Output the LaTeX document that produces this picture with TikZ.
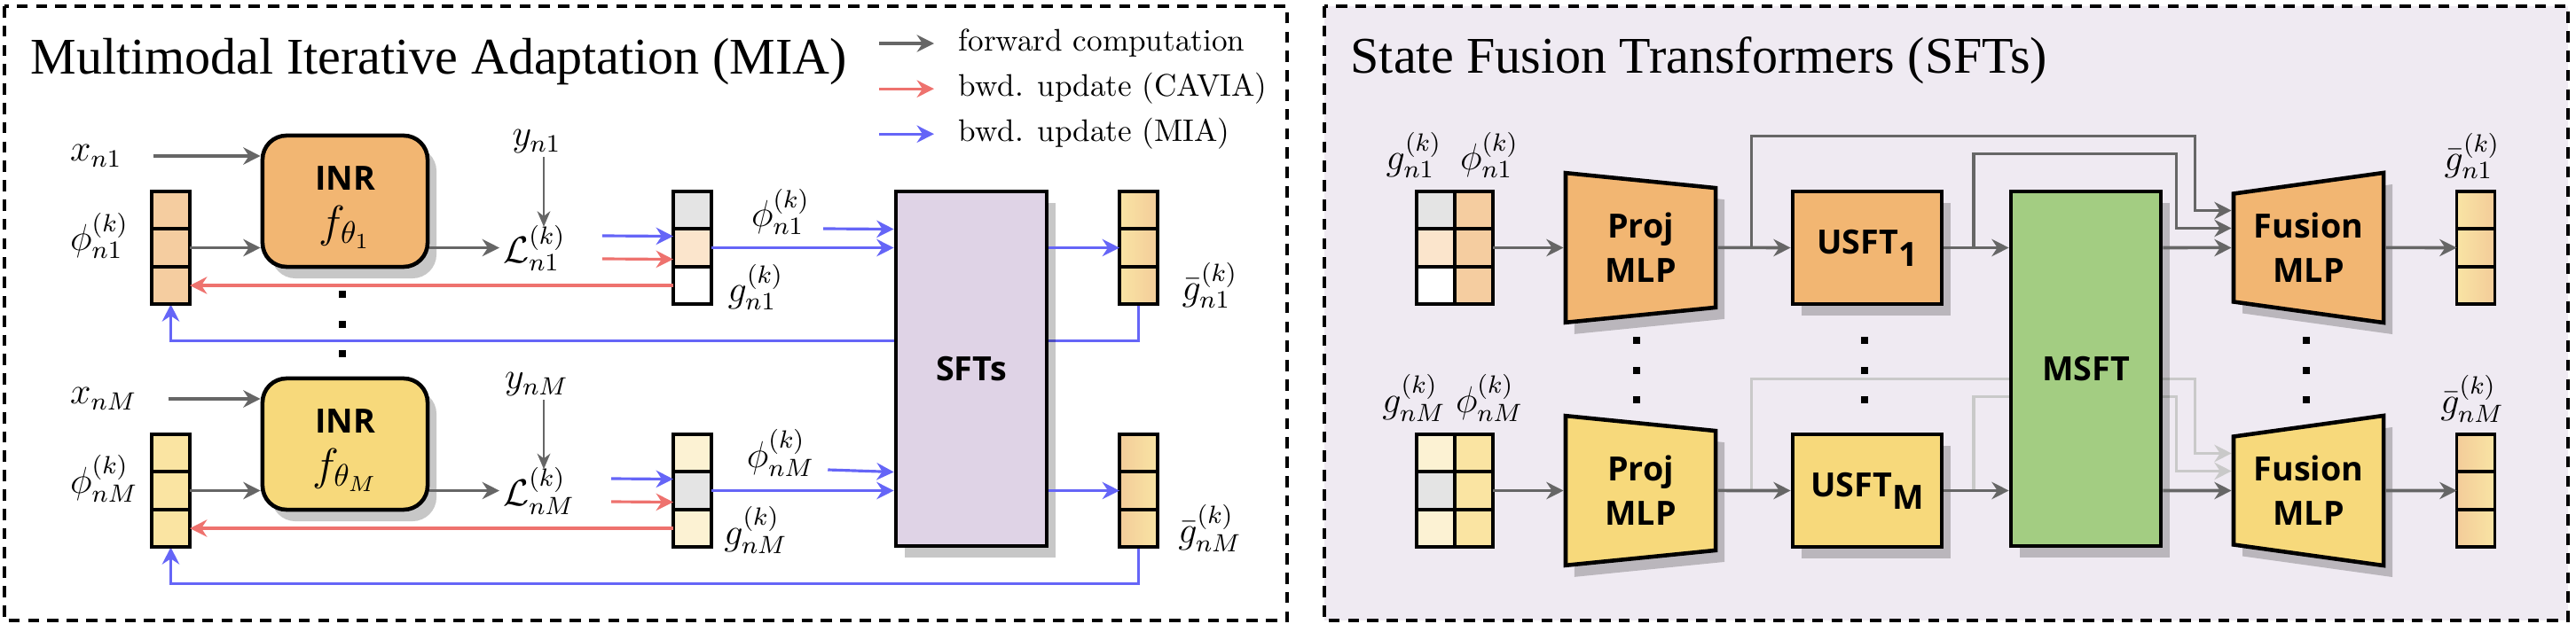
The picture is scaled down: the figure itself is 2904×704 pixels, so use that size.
\documentclass[tikz,border=0pt]{standalone}
\usepackage{fontspec}
\newfontfamily\titlefont{Liberation Serif}
\newfontfamily\boxfont{Open Sans}
\usetikzlibrary{calc,positioning,shapes.geometric,shadows,arrows.meta}

\definecolor{fwd}{HTML}{666666}
\definecolor{ghost}{HTML}{C9C9C9}
\definecolor{cavia}{HTML}{EE726E}
\definecolor{mia}{HTML}{6565F7}
\definecolor{inrorange}{HTML}{F2B672}
\definecolor{inryellow}{HTML}{F7D97B}
\definecolor{sftpurple}{HTML}{DFD3E6}
\definecolor{msftgreen}{HTML}{A3CD82}
\definecolor{panelbg}{HTML}{EFEAF2}
\definecolor{cellorange}{HTML}{F5CDA0}
\definecolor{cellyellow}{HTML}{FAE4A2}
\definecolor{cellpeach}{HTML}{FBE5CC}
\definecolor{cellcream}{HTML}{FCF2D3}
\definecolor{cellgray}{HTML}{E4E4E4}
\definecolor{gbyellow}{HTML}{F9E4A4}
\definecolor{gborange}{HTML}{F3CC99}

\pgfdeclarelayer{back}
\pgfdeclarelayer{wires}
\pgfsetlayers{back,wires,main}

\begin{document}
\begin{tikzpicture}[x=.01cm, y=-.01cm, node distance=0pt, >={Stealth[length=5.5pt, width=5.5pt, inset=1.8pt]}]
	\tikzstyle{panelframe}=[line width=1pt, dash pattern=on 3.6pt off 2.6pt]
	\tikzstyle{paneltitle}=[font=\titlefont\fontsize{16.5}{20}\selectfont, inner sep=0pt]
	\tikzstyle{legendtext}=[font=\fontsize{10}{12}\selectfont, inner sep=0pt]
	\tikzstyle{lbl}=[font=\fontsize{12}{14}\selectfont, inner sep=1pt]
	\tikzstyle{cell}=[draw, line width=1.1pt, minimum width=.43cm, minimum height=.425cm, inner sep=0pt, outer sep=0pt]
	\tikzstyle{gbcell}=[cell, left color=gbyellow, right color=gborange]
	\tikzstyle{gbcellr}=[cell, left color=gborange, right color=gbyellow]
	\tikzstyle{block}=[draw, line width=1.3pt, align=center, font={\boxfont\bfseries\fontsize{10.7}{14.2}\selectfont}, drop shadow={shadow xshift=.1cm, shadow yshift=-.13cm, fill=black, opacity=.22}]
	\tikzstyle{inr}=[block, rounded corners=.27cm, minimum width=1.86cm, minimum height=1.48cm]
	\tikzstyle{mlp}=[block, trapezium, trapezium stretches=true, trapezium angle=83, minimum width=1.69cm, minimum height=1.69cm, inner sep=0pt]
	\tikzstyle{sqdot}=[fill=black, minimum size=.08cm, inner sep=0pt]
	\tikzstyle{fwdarr}=[->, draw=fwd, line width=1pt]
	\tikzstyle{thinarr}=[->, draw=fwd, line width=.65pt, >={Stealth[length=5pt, width=4.2pt, inset=1.6pt]}]
	\tikzstyle{ghostarr}=[->, draw=ghost, line width=1pt]
	\tikzstyle{caviaarr}=[->, draw=cavia, line width=.9pt]
	\tikzstyle{miaarr}=[->, draw=mia, line width=.9pt]

	\useasboundingbox (0,0) rectangle (2904,704);

	% panels
	\begin{pgfonlayer}{back}
		\draw[panelframe] (5,7) rectangle (1451,700);
		\draw[panelframe, fill=panelbg] (1493,7) rectangle (2895,700);
	\end{pgfonlayer}
	\node[paneltitle, anchor=base west] (miatitle) at (34,84) {Multimodal Iterative Adaptation (MIA)};
	\node[paneltitle, anchor=base west] (sfttitle) at (1522,83) {State Fusion Transformers (SFTs)};

	% legend
	\node[legendtext, anchor=base west] (lfwd) at (1080,58) {forward computation};
	\node[legendtext, anchor=base west] (lcav) at (1080,109) {bwd. update (CAVIA)};
	\node[legendtext, anchor=base west] (lmia) at (1080,160) {bwd. update (MIA)};
	\draw[fwdarr] ($(lfwd.west)+(-89,0)$) -- ($(lfwd.west)+(-27,0)$);
	\draw[caviaarr] ($(lcav.west)+(-89,0)$) -- ($(lcav.west)+(-27,0)$);
	\draw[miaarr] ($(lmia.west)+(-89,0)$) -- ($(lmia.west)+(-27,0)$);

	% MIA, modality 1
	\node[lbl, anchor=west] (x1) at (75,176) {$x_{n1}$};
	\node[lbl, anchor=west] (phil1) at (75,266) {$\phi_{n1}^{(k)}$};
	\node[cell, fill=cellorange] (p1a) at (192.5,237) {};
	\node[cell, fill=cellorange, below=of p1a] (p1b) {};
	\node[cell, fill=cellorange, below=of p1b] (p1c) {};
	\node[inr, fill=inrorange] (inr1) at (389,227) {\rule{0pt}{11.4pt}INR\\[.9pt]{\fontsize{14.4}{16}\selectfont$f_{\theta_1}$}};
	\node[lbl] (y1) at (605,160) {$y_{n1}$};
	\node[lbl, anchor=west] (L1) at (563,280) {$\mathcal{L}_{n1}^{(k)}$};
	\node[cell, fill=cellgray] (g1a) at (780.5,237) {};
	\node[cell, fill=cellpeach, below=of g1a] (g1b) {};
	\node[cell, fill=white, below=of g1b] (g1c) {};
	\node[lbl] (phir1) at (880,239) {$\phi_{n1}^{(k)}$};
	\node[lbl] (gl1) at (852,324) {$g_{n1}^{(k)}$};
	\node[gbcell] (gb1a) at (1283.5,237) {};
	\node[gbcell, below=of gb1a] (gb1b) {};
	\node[gbcell, below=of gb1b] (gb1c) {};
	\node[lbl] (gbl1) at (1364,322) {$\bar{g}_{n1}^{(k)}$};

	\foreach \y [count=\i] in {332,366,399}
		\node[sqdot] (ldot\i) at (386,\y) {};

	% MIA, modality M
	\node[lbl, anchor=west] (xM) at (75,450) {$x_{nM}$};
	\node[lbl, anchor=west] (philM) at (75,540) {$\phi_{nM}^{(k)}$};
	\node[cell, fill=cellyellow] (pMa) at (192.5,511) {};
	\node[cell, fill=cellyellow, below=of pMa] (pMb) {};
	\node[cell, fill=cellyellow, below=of pMb] (pMc) {};
	\node[inr, fill=inryellow] (inrM) at (389,501) {\rule{0pt}{11.4pt}INR\\[.9pt]{\fontsize{14.4}{16}\selectfont$f_{\theta_M}$}};
	\node[lbl] (yM) at (605,434) {$y_{nM}$};
	\node[lbl, anchor=west] (LM) at (563,554) {$\mathcal{L}_{nM}^{(k)}$};
	\node[cell, fill=cellcream] (gMa) at (780.5,511) {};
	\node[cell, fill=cellgray, below=of gMa] (gMb) {};
	\node[cell, fill=cellcream, below=of gMb] (gMc) {};
	\node[lbl] (phirM) at (880,511) {$\phi_{nM}^{(k)}$};
	\node[lbl] (glM) at (852,598) {$g_{nM}^{(k)}$};
	\node[gbcellr] (gbMa) at (1283.5,511) {};
	\node[gbcellr, below=of gbMa] (gbMb) {};
	\node[gbcellr, below=of gbMb] (gbMc) {};
	\node[lbl] (gblM) at (1364,596) {$\bar{g}_{nM}^{(k)}$};

	\node[block, fill=sftpurple, minimum width=1.7cm, minimum height=4cm] (sfts) at (1095,416) {SFTs};

	\draw[fwdarr] ($(x1.east)+(31,0)$) -- (x1 -| inr1.west);
	\draw[fwdarr] (p1b.east) -- (p1b -| inr1.west);
	\draw[fwdarr] (inr1.east |- p1b) -- (L1.west |- p1b);
	\draw[thinarr] ($(y1.south)+(8,0)$) -- ($(y1.south |- L1.north)+(8,6)$);
	\draw[miaarr] ($(L1.east)+(37,-14)$) -- ($(g1b.west)+(0,-13)$);
	\draw[caviaarr] ($(L1.east)+(37,12)$) -- ($(g1b.west)+(0,13)$);
	\draw[caviaarr] (g1c.west) -- (p1c.east);
	\draw[miaarr] (g1b.east) -- (g1b -| sfts.west);
	\draw[miaarr] ($(phir1.east)+(11,19)$) -- ($(sfts.west |- g1b)+(0,-21)$);
	\draw[miaarr] (sfts.east |- gb1b) -- (gb1b.west);

	\draw[fwdarr] ($(xM.east)+(31,0)$) -- (xM -| inrM.west);
	\draw[fwdarr] (pMb.east) -- (pMb -| inrM.west);
	\draw[fwdarr] (inrM.east |- pMb) -- (LM.west |- pMb);
	\draw[thinarr] ($(yM.south)+(8,0)$) -- ($(yM.south |- LM.north)+(8,6)$);
	\draw[miaarr] ($(LM.east)+(37,-14)$) -- ($(gMb.west)+(0,-13)$);
	\draw[caviaarr] ($(LM.east)+(37,12)$) -- ($(gMb.west)+(0,13)$);
	\draw[caviaarr] (gMc.west) -- (pMc.east);
	\draw[miaarr] (gMb.east) -- (gMb -| sfts.west);
	\draw[miaarr] ($(phirM.east)+(11,19)$) -- ($(sfts.west |- gMb)+(0,-21)$);
	\draw[miaarr] (sfts.east |- gbMb) -- (gbMb.west);

	% SFTs, modality 1
	\node[lbl] (mgl1) at (1594,175) {$g_{n1}^{(k)}$};
	\node[lbl] (mpl1) at (1679,175) {$\phi_{n1}^{(k)}$};
	\node[cell, fill=cellgray] (m1ga) at (1618.5,237) {};
	\node[cell, fill=cellpeach, below=of m1ga] (m1gb) {};
	\node[cell, fill=white, below=of m1gb] (m1gc) {};
	\node[cell, fill=cellorange, right=of m1ga] (m1pa) {};
	\node[cell, fill=cellorange, right=of m1gb] (m1pb) {};
	\node[cell, fill=cellorange, right=of m1gc] (m1pc) {};
	\node[mlp, fill=inrorange, shape border rotate=270] (proj1) at (1849.5,279.5) {Proj\\MLP};
	\node[block, fill=inrorange, minimum width=1.68cm, minimum height=1.27cm] (usft1) at (2105,279.5) {USFT\raisebox{-.14cm}{1}};
	\node[mlp, fill=inrorange, shape border rotate=90] (fus1) at (2602.5,279.5) {Fusion\\MLP};
	\node[gbcell] (go1a) at (2791,237) {};
	\node[gbcell, below=of go1a] (go1b) {};
	\node[gbcell, below=of go1b] (go1c) {};
	\node[lbl] (gol1) at (2787,176) {$\bar{g}_{n1}^{(k)}$};

	\foreach \y [count=\i] in {384,418,451} {
		\node[sqdot] (pdot\i) at (1845,\y) {};
		\node[sqdot] (udot\i) at (2102,\y) {};
		\node[sqdot] (fdot\i) at (2600,\y) {};
	}

	% SFTs, modality M
	\node[lbl] (mglM) at (1594,449) {$g_{nM}^{(k)}$};
	\node[lbl] (mplM) at (1679,449) {$\phi_{nM}^{(k)}$};
	\node[cell, fill=cellcream] (mMga) at (1618.5,511) {};
	\node[cell, fill=cellgray, below=of mMga] (mMgb) {};
	\node[cell, fill=cellcream, below=of mMgb] (mMgc) {};
	\node[cell, fill=cellyellow, right=of mMga] (mMpa) {};
	\node[cell, fill=cellyellow, right=of mMgb] (mMpb) {};
	\node[cell, fill=cellyellow, right=of mMgc] (mMpc) {};
	\node[mlp, fill=inryellow, shape border rotate=270] (projM) at (1849.5,553.5) {Proj\\MLP};
	\node[block, fill=inryellow, minimum width=1.68cm, minimum height=1.27cm] (usftM) at (2105,553.5) {USFT\raisebox{-.14cm}{M}};
	\node[mlp, fill=inryellow, shape border rotate=90] (fusM) at (2602.5,553.5) {Fusion\\MLP};
	\node[gbcellr] (goMa) at (2791,511) {};
	\node[gbcellr, below=of goMa] (goMb) {};
	\node[gbcellr, below=of goMb] (goMc) {};
	\node[lbl] (golM) at (2787,450) {$\bar{g}_{nM}^{(k)}$};

	\node[block, fill=msftgreen, minimum width=1.69cm, minimum height=4cm] (msft) at (2351.5,416) {MSFT};

	\coordinate (sk1) at ($(proj1.east)!.46!(usft1.west)$);
	\coordinate (sk2) at ($(usft1.east)!.46!(msft.west |- usft1)$);
	\coordinate (skM) at ($(projM.east)!.46!(usftM.west)$);
	\coordinate (sk2M) at ($(usftM.east)!.46!(msft.west |- usftM)$);

	\draw[fwdarr] (m1pb.east) -- (m1pb -| proj1.west);
	\draw[fwdarr] (proj1.east) -- (usft1.west);
	\draw[fwdarr] (usft1.east) -- (msft.west |- usft1);
	\draw[fwdarr] (msft.east |- fus1) -- (fus1.west);
	\draw[fwdarr] (fus1.east) -- (fus1 -| go1b.west);
	\draw[fwdarr] (sk1) -- ++(0,-126) -| ($(fus1.west)+(-41,-42)$) -- ($(fus1.west)+(0,-42)$);
	\draw[fwdarr] (sk2) -- ++(0,-106) -| ($(fus1.west)+(-62,-22)$) -- ($(fus1.west)+(0,-22)$);

	\draw[fwdarr] (mMpb.east) -- (mMpb -| projM.west);
	\draw[fwdarr] (projM.east) -- (usftM.west);
	\draw[fwdarr] (usftM.east) -- (msft.west |- usftM);
	\draw[fwdarr] (msft.east |- fusM) -- (fusM.west);
	\draw[fwdarr] (fusM.east) -- (fusM -| goMb.west);

	\begin{pgfonlayer}{wires}
		\draw[miaarr] (gb1c.south) -- ++(0,41) -| (p1c.south);
		\draw[miaarr] (gbMc.south) -- ++(0,41) -| (pMc.south);
		\draw[ghostarr] (skM) -- ++(0,-126) -| ($(fusM.west)+(-41,-42)$) -- ($(fusM.west)+(0,-42)$);
		\draw[ghostarr] (sk2M) -- ++(0,-106) -| ($(fusM.west)+(-62,-22)$) -- ($(fusM.west)+(0,-22)$);
	\end{pgfonlayer}
\end{tikzpicture}
\end{document}
